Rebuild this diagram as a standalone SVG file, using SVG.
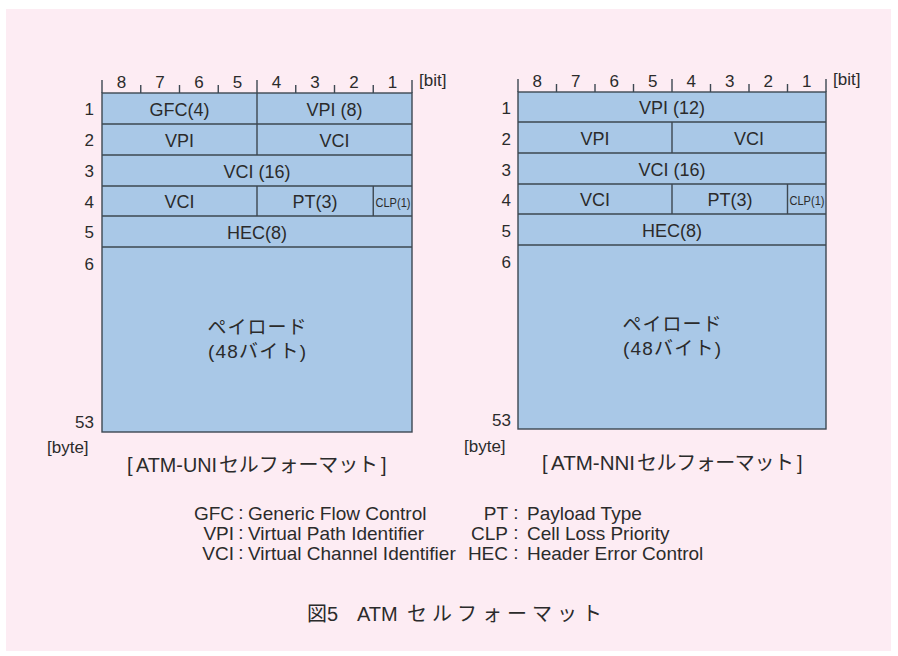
<svg xmlns="http://www.w3.org/2000/svg" width="898" height="656" viewBox="0 0 898 656">
<style>
text{font-family:"Liberation Sans","Noto Sans CJK JP",sans-serif;fill:#2b2b2b}
.f{fill:#a9c8e7;stroke:#3d4852;stroke-width:1.4}
.l{stroke:#3d4852;stroke-width:1.4;fill:none}
.b{font-size:17px;text-anchor:middle}
.c{font-size:18px;text-anchor:middle}
.n{font-size:17px;text-anchor:end}
.s{font-size:13px}
.g{font-size:17px}
.p{font-size:19px;text-anchor:middle}
.q{font-size:20px}
.lg{font-size:19px}
.e{text-anchor:end}
.m{text-anchor:middle}
</style>
<rect x="6" y="9" width="885" height="642" fill="#fdecf3"/>
<g id="uni">
<rect class="f" x="102" y="93" width="310" height="339"/>
<path class="l" d="M102,124H412M102,155H412M102,186H412M102,216H412M102,247H412M257,93V155M257,186V216M373.25,186V216"/>
<path class="l" d="M102,80V93M140.75,85V93M179.5,85V93M218.25,85V93M257,80V93M295.75,85V93M334.5,85V93M373.25,85V93M412,80V93"/>
<text class="b" x="121.4" y="88">8</text><text class="b" x="160.1" y="88">7</text><text class="b" x="198.9" y="88">6</text><text class="b" x="237.6" y="88">5</text>
<text class="b" x="276.4" y="88">4</text><text class="b" x="315.1" y="88">3</text><text class="b" x="353.9" y="88">2</text><text class="b" x="392.6" y="88">1</text>
<text class="g" x="419" y="86">[bit]</text>
<text class="n" x="94" y="115">1</text><text class="n" x="94" y="146">2</text><text class="n" x="94" y="177">3</text><text class="n" x="94" y="208">4</text><text class="n" x="94" y="238">5</text><text class="n" x="94" y="270">6</text><text class="n" x="94" y="428">53</text>
<text class="g" x="47" y="453">[byte]</text>
<text class="c" x="179.5" y="116">GFC(4)</text><text class="c" x="334.5" y="116">VPI (8)</text>
<text class="c" x="179.5" y="147">VPI</text><text class="c" x="334.5" y="147">VCI</text>
<text class="c" x="257" y="178">VCI (16)</text>
<text class="c" x="179.5" y="208">VCI</text><text class="c" x="315" y="208">PT(3)</text>
<text class="s" x="375.5" y="207" textLength="35" lengthAdjust="spacingAndGlyphs">CLP(1)</text>
<text class="c" x="257" y="239">HEC(8)</text>
<text class="p" x="257" y="334" textLength="99" lengthAdjust="spacing">ペイロード</text>
<text class="p" x="257" y="358" textLength="98" lengthAdjust="spacing">(48バイト)</text>
<text class="q" y="472"><tspan x="127">[</tspan><tspan x="136" textLength="81" lengthAdjust="spacingAndGlyphs">ATM-UNI</tspan><tspan x="219" textLength="159" lengthAdjust="spacing">セルフォーマット</tspan><tspan x="381">]</tspan></text>
</g>
<g id="nni">
<rect class="f" x="518" y="92" width="308" height="337"/>
<path class="l" d="M518,122H826M518,153H826M518,184H826M518,214H826M518,245H826M672,122V153M672,184V214M787.5,184V214"/>
<path class="l" d="M518,79V92M556.5,84V92M595,84V92M633.5,84V92M672,79V92M710.5,84V92M749,84V92M787.5,84V92M826,79V92"/>
<text class="b" x="537.3" y="87">8</text><text class="b" x="575.8" y="87">7</text><text class="b" x="614.3" y="87">6</text><text class="b" x="652.8" y="87">5</text>
<text class="b" x="691.3" y="87">4</text><text class="b" x="729.8" y="87">3</text><text class="b" x="768.3" y="87">2</text><text class="b" x="806.8" y="87">1</text>
<text class="g" x="833" y="85">[bit]</text>
<text class="n" x="511" y="114">1</text><text class="n" x="511" y="145">2</text><text class="n" x="511" y="176">3</text><text class="n" x="511" y="206">4</text><text class="n" x="511" y="237">5</text><text class="n" x="511" y="268">6</text><text class="n" x="511" y="426">53</text>
<text class="g" x="464" y="452">[byte]</text>
<text class="c" x="672" y="114">VPI (12)</text>
<text class="c" x="595" y="145">VPI</text><text class="c" x="749" y="145">VCI</text>
<text class="c" x="672" y="176">VCI (16)</text>
<text class="c" x="595" y="206">VCI</text><text class="c" x="730" y="206">PT(3)</text>
<text class="s" x="789.5" y="205" textLength="35" lengthAdjust="spacingAndGlyphs">CLP(1)</text>
<text class="c" x="672" y="237">HEC(8)</text>
<text class="p" x="672" y="331" textLength="99" lengthAdjust="spacing">ペイロード</text>
<text class="p" x="672" y="355" textLength="98" lengthAdjust="spacing">(48バイト)</text>
<text class="q" y="470"><tspan x="542">[</tspan><tspan x="551" textLength="84" lengthAdjust="spacingAndGlyphs">ATM-NNI</tspan><tspan x="637" textLength="157" lengthAdjust="spacing">セルフォーマット</tspan><tspan x="797">]</tspan></text>
</g>
<g id="legend" class="lg">
<text class="lg e" x="234" y="520">GFC</text><text class="lg m" x="241" y="519">:</text><text class="lg" x="248" y="520">Generic Flow Control</text>
<text class="lg e" x="234" y="540">VPI</text><text class="lg m" x="241" y="539">:</text><text class="lg" x="248" y="540">Virtual Path Identifier</text>
<text class="lg e" x="234" y="560">VCI</text><text class="lg m" x="241" y="559">:</text><text class="lg" x="248" y="560">Virtual Channel Identifier</text>
<text class="lg e" x="508" y="520">PT</text><text class="lg m" x="516" y="519">:</text><text class="lg" x="527" y="520">Payload Type</text>
<text class="lg e" x="508" y="540">CLP</text><text class="lg m" x="516" y="539">:</text><text class="lg" x="527" y="540">Cell Loss Priority</text>
<text class="lg e" x="508" y="560">HEC</text><text class="lg m" x="516" y="559">:</text><text class="lg" x="527" y="560">Header Error Control</text>
</g>
<text font-size="20" y="621"><tspan x="307">図5</tspan><tspan x="357">ATM</tspan><tspan x="407" textLength="195" lengthAdjust="spacing">セルフォーマット</tspan></text>
</svg>
